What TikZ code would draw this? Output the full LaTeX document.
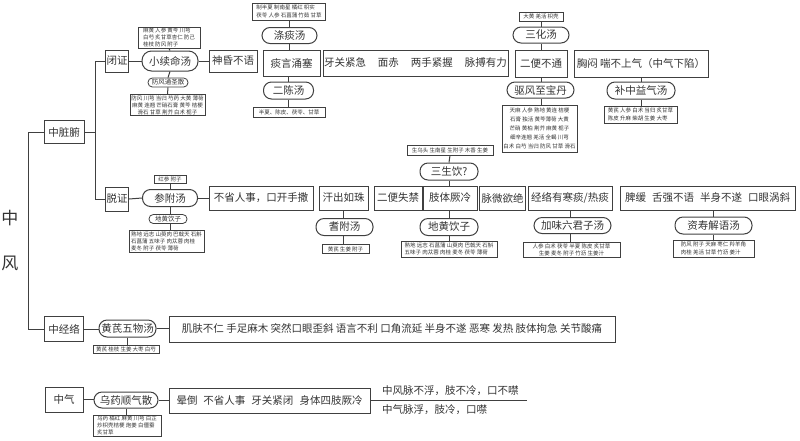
\documentclass[tikz,border=0pt]{standalone}
\usepackage{fontspec}
\setmainfont{Noto Sans CJK SC}
\newcommand\fsz[2]{\fontsize{#1}{#2}\selectfont}
\definecolor{ln}{HTML}{404040}
\definecolor{tx}{HTML}{333333}
\begin{document}
\begin{tikzpicture}[x=1pt,y=-1pt,
 bx/.style={draw=ln, line width=1pt, text=tx, font=\fsz{10.5}{12}, inner sep=0pt, minimum height=24pt},
 pill/.style={bx, rounded corners=8pt, minimum height=17pt},
 spill/.style={draw=ln, line width=0.8pt, text=tx, font=\fsz{6.5}{7}, inner sep=0pt, rounded corners=4.3pt, minimum height=9pt},
 ing/.style={draw=ln, line width=0.8pt, text=tx, font=\fsz{5.5}{7}, inner sep=1pt, align=left},
 cn/.style={draw=ln, line width=1pt},
 big/.style={text=tx, font=\fsz{17}{18}, inner sep=0pt},
 plain/.style={text=tx, font=\fsz{10.5}{12}, inner sep=0pt, anchor=west}
]
\useasboundingbox (0,0) rectangle (800,440);

% left title
\node[big] (zh) at (10,218) {中};
\node[big] (fe) at (10,263) {风};

% level 1
\node[bx, minimum width=40pt, minimum height=23pt] (zzf) at (64,132) {中脏腑};
\node[bx, minimum width=39pt, minimum height=25pt] (zjl) at (64,329) {中经络};
\node[bx, minimum width=38pt, minimum height=25pt] (zq) at (64,399.5) {中气};

% 闭证 row
\node[bx, minimum width=23pt, minimum height=22pt] (bz) at (117,61) {闭证};
\node[pill, minimum width=56pt, minimum height=20pt, rounded corners=9.5pt] (xxm) at (170,61) {小续命汤};
\node[ing, minimum width=62pt, minimum height=21pt] (xxmIng) at (169,37.5) {麻黄 人参 黄芩 川芎\\白芍 炙甘草杏仁 防己\\桂枝 防风 附子};
\node[spill, minimum width=40pt] (fftsp) at (168,82.5) {防风通圣散};
\node[ing, align=center, minimum width=75pt, minimum height=20pt] (fftsIng) at (167.5,105) {防风 川芎 当归 芍药 大黄 薄荷\\麻黄 连翘 芒硝石膏 黄芩 桔梗\\滑石 甘草 荆芥 白术 栀子};
\node[bx, minimum width=48pt, minimum height=22pt] (shby) at (233,61) {神昏不语};

\node[ing, minimum width=73pt, minimum height=17pt, font=\fsz{5.5}{7.5}] (dtIng) at (289,11.5) {制半夏 制南星 橘红 枳实\\茯苓 人参 石菖蒲 竹茹 甘草};
\node[pill, minimum width=55pt, minimum height=16pt] (dt) at (289.5,35.5) {涤痰汤};
\node[bx, minimum width=57pt, minimum height=26pt] (tyys) at (291.5,63) {痰言涌塞};
\node[pill, minimum width=50pt] (ec) at (288.5,90.5) {二陈汤};
\node[ing, align=center, minimum width=72pt, minimum height=10pt] (ecIng) at (289,112) {半夏、陈皮、茯苓、甘草};

\node[bx, minimum width=185pt, minimum height=26pt] (yg) at (415.5,63) {牙关紧急\hspace{12pt}面赤\hspace{12pt}两手紧握\hspace{12pt}脉搏有力};

\node[ing, align=center, minimum width=44pt, minimum height=9pt] (shIng) at (541,16.5) {大黄 羌活 枳壳};
\node[pill, minimum width=56pt, minimum height=16pt] (sh) at (541,35) {三化汤};
\node[bx, minimum width=52pt, minimum height=27pt] (ebbt) at (541,63.5) {二便不通};
\node[pill, minimum width=67pt, minimum height=16pt] (qf) at (540.5,90) {驱风至宝丹};
\node[ing, align=center, minimum width=75pt, minimum height=47pt, font=\fsz{5.5}{9.2}] (qfIng) at (539.5,128.5) {天麻 人参 熟地 黄连 桔梗\\石膏 独活 黄芩薄荷 大黄\\芒硝 黄柏 荆芥 麻黄 栀子\\细辛连翘 羌活 全蝎 川芎\\白术 白芍 当归 防风 甘草 滑石};

\node[bx, minimum width=134pt, minimum height=27pt] (xm) at (641,63.5) {胸闷 喘不上气（中气下陷）};
\node[pill, minimum width=68pt] (bzyq) at (641,90.5) {补中益气汤};
\node[ing, minimum width=73pt, minimum height=17pt, font=\fsz{5.5}{7.5}] (bzyqIng) at (640.5,114.5) {黄芪 人参 白术 当归 炙甘草\\陈皮 升麻 柴胡 生姜 大枣};

% 脱证 row
\node[bx, minimum width=23pt, minimum height=24pt] (tz) at (117,199) {脱证};
\node[pill, minimum width=55pt] (sf) at (170,198) {参附汤};
\node[ing, align=center, minimum width=32pt, minimum height=8pt] (sfIng) at (170,179) {红参 附子};
\node[spill, minimum width=38pt] (dhsp) at (168,219) {地黄饮子};
\node[ing, minimum width=75pt, minimum height=22pt] (dhsIng) at (166.5,241) {熟地 远志 山萸肉 巴戟天 石斛\\石菖蒲 五味子 肉苁蓉 肉桂\\麦冬 附子 茯苓 薄荷};
\node[bx, minimum width=104pt] (bsrs) at (261,198) {不省人事，口开手撒};

\node[bx, minimum width=49pt] (hc) at (343.5,198) {汗出如珠};
\node[pill, minimum width=57pt] (qfa) at (344.5,227) {耆附汤};
\node[ing, align=center, minimum width=47pt, minimum height=9pt] (qfaIng) at (345.5,249) {黄芪 生姜 附子};

\node[bx, minimum width=48pt] (bs) at (398,198) {二便失禁};
\node[bx, minimum width=54pt] (ztjl) at (450,198) {肢体厥冷};
\node[pill, minimum width=58pt] (ssy) at (449,171.5) {三生饮?};
\node[ing, align=center, minimum width=86pt, minimum height=10pt] (ssyIng) at (450,150) {生乌头 生南星 生附子 木香 生姜};
\node[pill, minimum width=58pt] (dhyz) at (449,227) {地黄饮子};
\node[ing, minimum width=96pt, minimum height=16pt] (dhyzIng) at (449,249) {熟地 远志 石菖蒲 山萸肉 巴戟天 石斛\\五味子 肉苁蓉 肉桂 麦冬 茯苓 薄荷};

\node[bx, minimum width=46pt] (mw) at (502.5,198) {脉微欲绝};
\node[bx, minimum width=84pt] (jl) at (570,198) {经络有寒痰/热痰};
\node[pill, minimum width=77pt, minimum height=16pt] (jw) at (572.5,225.5) {加味六君子汤};
\node[ing, align=center, minimum width=97pt, minimum height=15pt] (jwIng) at (571.5,249.5) {人参 白术 茯苓 半夏 陈皮 炙甘草\\生姜 麦冬 附子 竹沥 生姜汁};

\node[bx, minimum width=175pt] (pj) at (707.5,198) {脾缓\hspace{6pt}舌强不语\hspace{6pt}半身不遂\hspace{6pt}口眼涡斜};
\node[pill, minimum width=77pt] (zs) at (713.5,225.5) {资寿解语汤};
\node[ing, minimum width=81pt, minimum height=17pt, font=\fsz{5.5}{7.5}] (zsIng) at (713.5,248.5) {防风 附子 天麻 枣仁 羚羊角\\肉桂 羌活 甘草 竹沥 姜汁};

% 中经络 row
\node[pill, minimum width=57pt] (hq) at (127.5,328.5) {黄芪五物汤};
\node[ing, align=center, minimum width=66pt, minimum height=8pt] (hqIng) at (126,349) {黄芪 桂枝 生姜 大枣 白芍};
\node[bx, minimum width=446pt, minimum height=26pt] (hqSym) at (392,329) {肌肤不仁 手足麻木 突然口眼歪斜 语言不利 口角流延 半身不遂 恶寒 发热 肢体拘急 关节酸痛};

% 中气 row
\node[pill, minimum width=64pt, minimum height=16pt] (wy) at (126,400) {乌药顺气散};
\node[ing, minimum width=68pt, minimum height=21pt] (wyIng) at (127,425.5) {乌药 橘红 麻黄 川芎 白芷\\炒枳壳桔梗 炮姜 白僵蚕\\炙甘草};
\node[bx, minimum width=201pt, minimum height=25pt] (wySym) at (269.5,400.5) {晕倒\hspace{6pt}不省人事\hspace{6pt}牙关紧闭\hspace{6pt}身体四肢厥冷};
\coordinate (wyEnd) at (527,400.5);
\node[plain] (t1) at (382,391) {中风脉不浮，肢不冷，口不噤};
\node[plain] (t2) at (382,410) {中气脉浮，肢冷，口噤};

% connectors
\coordinate (j1) at (95,132);
\draw[cn] (zzf.west) -- ++(-15,0) |- (zjl.west);
\draw[cn] (zzf.east) -- (j1);
\draw[cn] (bz.west) -| (j1);
\draw[cn] (tz.west) -| (j1);

\draw[cn] (bz.east) -- (xxm.west);
\draw[cn] (xxm.east) -- (shby.west);
\draw[cn] (xxmIng.south) -- (xxm.north);
\draw[cn] (xxm.south) -- (fftsp.north);
\draw[cn] (fftsp.south) -- (fftsIng.north);

\draw[cn] (dtIng.south) -- (dtIng.south |- dt.north);
\draw[cn] (dt.south) -- (dt.south |- tyys.north);
\draw[cn] (ec.north |- tyys.south) -- (ec.north);
\draw[cn] (ec.south) -- (ec.south |- ecIng.north);

\draw[cn] (shIng.south) -- (sh.north);
\draw[cn] (sh.south) -- (ebbt.north);
\draw[cn] (ebbt.south) -- (ebbt.south |- qf.north);
\draw[cn] (ebbt.south |- qf.south) -- (ebbt.south |- qfIng.north);

\draw[cn] (xm.south) -- (xm.south |- bzyq.north);
\draw[cn] (xm.south |- bzyq.south) -- (xm.south |- bzyqIng.north);

\draw[cn] (tz.east) -- (sf.west);
\draw[cn] (sf.east) -- (bsrs.west);
\draw[cn] (sfIng.south) -- (sf.north);
\draw[cn] (sf.south) -- (sf.south |- dhsp.north);
\draw[cn] (sf.south |- dhsp.south) -- (sf.south |- dhsIng.north);

\draw[cn] (hc.south) -- (hc.south |- qfa.north);
\draw[cn] (hc.south |- qfa.south) -- (hc.south |- qfaIng.north);

\draw[cn] (ssyIng.south) -- (ssy.north);
\draw[cn] (ssy.south) -- (ssy.south |- ztjl.north);
\draw[cn] (ssy.south |- ztjl.south) -- (dhyz.north);
\draw[cn] (dhyz.south) -- (dhyz.south |- dhyzIng.north);

\draw[cn] (jl.south) -- (jl.south |- jw.north);
\draw[cn] (jl.south |- jw.south) -- (jl.south |- jwIng.north);

\draw[cn] (zs.north |- pj.south) -- (zs.north);
\draw[cn] (zs.south) -- (zs.south |- zsIng.north);

\draw[cn] (zjl.east) -- (zjl.east -| hq.west);
\draw[cn] (hq.east) -- (hq.east -| hqSym.west);
\draw[cn] (hq.south) -- (hq.south |- hqIng.north);

\draw[cn] (zq.east) -- (zq.east -| wy.west);
\draw[cn] (wy.east) -- (wy.east -| wySym.west);
\draw[cn] (wy.south) -- (wy.south |- wyIng.north);
\draw[cn] (wySym.east) -- (wyEnd);
\end{tikzpicture}
\end{document}
